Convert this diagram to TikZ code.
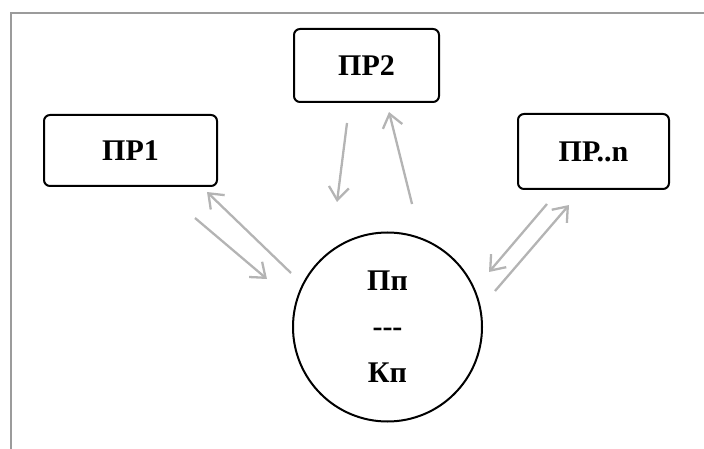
\documentclass[tikz,border=0pt]{standalone}
\usepackage{fontspec}
\setmainfont{Liberation Serif}
\usetikzlibrary{arrows.meta}
\definecolor{framegray}{RGB}{155,155,155}
\definecolor{arrowgray}{RGB}{180,180,180}
\begin{document}
\begin{tikzpicture}[x=1pt,y=-1pt,
  box/.style={draw=black, line width=2pt, rounded corners=6pt, fill=white,
    font=\fontsize{30}{32}\selectfont\bfseries, inner sep=0pt},
  hub/.style={draw=black, line width=2pt, circle, inner sep=0pt,
    minimum size=189pt, align=center, font=\fontsize{30}{46}\selectfont\bfseries},
  link/.style={draw=arrowgray, line width=2.3pt,
    -{Straight Barb[length=13pt,width=20pt,line width=2.3pt]}},
  framestyle/.style={draw=framegray, line width=1.8pt}
]
\useasboundingbox (0,0) rectangle (704,449);
\draw[framestyle] (11,449) -- (11,13) -- (704,13);

\node[box, minimum width=173pt, minimum height=71pt] (pr1) at (130.5,150.5) {ПР1};
\node[box, minimum width=145pt, minimum height=73pt] (pr2) at (366.5,65.5) {ПР2};
\node[box, minimum width=151pt, minimum height=75pt] (prn) at (593.5,151.5) {ПР..n};
\node[hub] (hub) at (387.5,327) {Пп\\-{}-{}-\\Кп};

% left pair
\coordinate (a1s) at (195,218);
\coordinate (a1e) at (267,279);
\coordinate (a2s) at (291,273);
\coordinate (a2e) at (207,192);
% middle pair
\coordinate (b1s) at (347,123);
\coordinate (b1e) at (337,202);
\coordinate (b2s) at (412,204);
\coordinate (b2e) at (389,112);
% right pair
\coordinate (c1s) at (547,204);
\coordinate (c1e) at (489,272);
\coordinate (c2s) at (495,291);
\coordinate (c2e) at (569,205);

\draw[link] (a1s) -- (a1e);
\draw[link] (a2s) -- (a2e);
\draw[link] (b1s) -- (b1e);
\draw[link] (b2s) -- (b2e);
\draw[link] (c1s) -- (c1e);
\draw[link] (c2s) -- (c2e);
\end{tikzpicture}
\end{document}
